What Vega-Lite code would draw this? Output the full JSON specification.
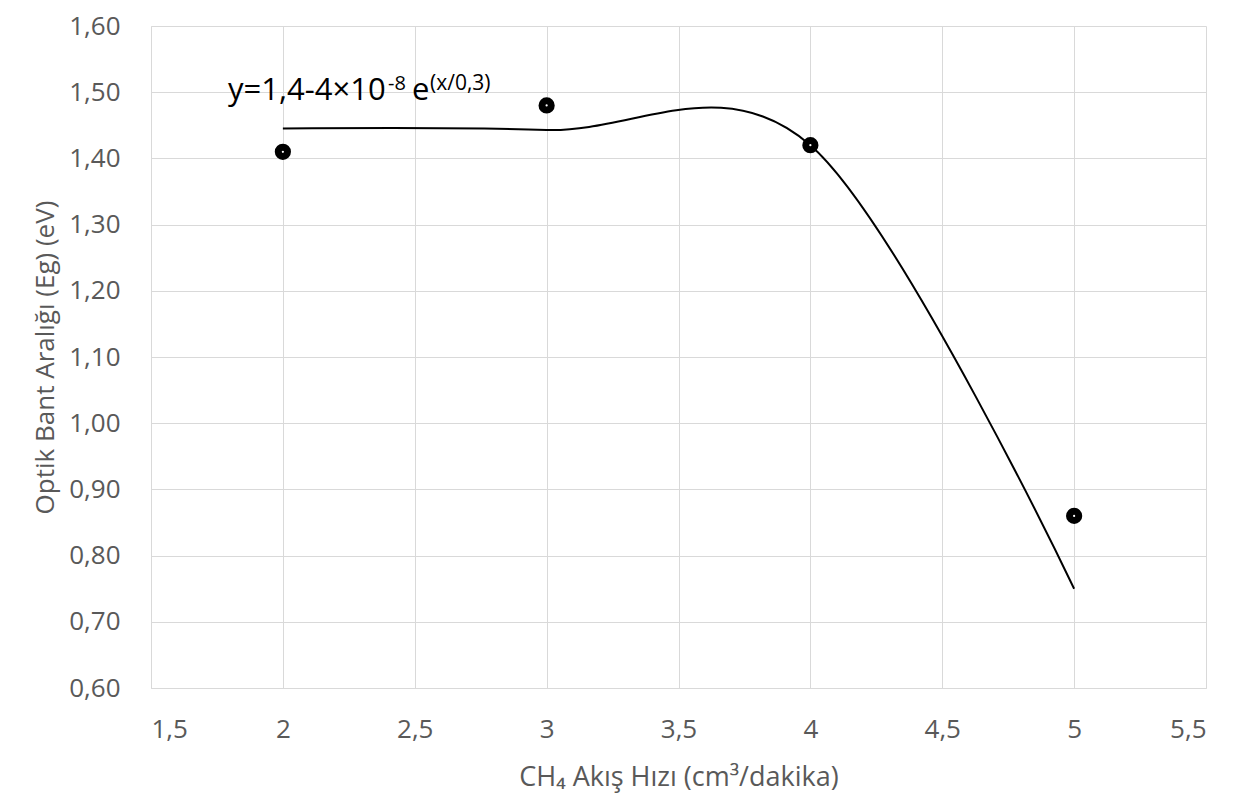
{
  "$schema": "https://vega.github.io/schema/vega-lite/v6.json",
  "autosize": "none",
  "width": 1055,
  "height": 662,
  "padding": {"left": 151, "top": 26, "right": 39, "bottom": 121},
  "background": "white",
  "config": {
    "locale": {"number": {"decimal": ",", "thousands": ".", "grouping": [3], "currency": ["", " €"]}},
    "view": {"stroke": null},
    "font": "Open Sans",
    "axis": {
      "labelFont": "Open Sans", "titleFont": "Open Sans", "labelFontSize": 26, "titleFontSize": 27,
      "labelColor": "#595959", "titleColor": "#595959", "labelFontWeight": "normal", "titleFontWeight": "normal",
      "gridColor": "#d9d9d9", "gridWidth": 1, "domainColor": "#d9d9d9", "ticks": false
    }
  },
  "datasets": {
    "measured": [
      {"flow": 2, "eg": 1.41},
      {"flow": 3, "eg": 1.48},
      {"flow": 4, "eg": 1.42},
      {"flow": 5, "eg": 0.86}
    ],
    "fit": [
      {"flow": 2, "eg": 1.445},
      {"flow": 3, "eg": 1.443},
      {"flow": 4, "eg": 1.42},
      {"flow": 5, "eg": 0.75}
    ]
  },
  "layer": [
    {
      "data": {"name": "fit"},
      "mark": {"type": "line", "interpolate": "cardinal", "color": "black", "strokeWidth": 2},
      "encoding": {
        "x": {
          "field": "flow", "type": "quantitative",
          "scale": {"domain": [1.5, 5.5], "nice": false, "zero": false},
          "axis": {"values": [1.5, 2, 2.5, 3, 3.5, 4, 4.5, 5, 5.5], "format": "~g", "labelPadding": 28, "titlePadding": 22,
                   "title": "CH₄ Akış Hızı (cm³/dakika)", "domain": true}
        },
        "y": {
          "field": "eg", "type": "quantitative",
          "scale": {"domain": [0.6, 1.6], "nice": false, "zero": false},
          "axis": {"values": [0.6, 0.7, 0.8, 0.9, 1.0, 1.1, 1.2, 1.3, 1.4, 1.5, 1.6], "format": ".2f", "labelPadding": 31, "titlePadding": 10,
                   "title": "Optik Bant Aralığı (Eg) (eV)", "titleFontSize": 26, "domain": true}
        }
      }
    },
    {
      "data": {"name": "measured"},
      "mark": {"type": "point", "shape": "circle", "filled": false, "fill": "white", "stroke": "black", "strokeWidth": 7, "size": 85, "opacity": 1},
      "encoding": {
        "x": {"field": "flow", "type": "quantitative"},
        "y": {"field": "eg", "type": "quantitative"}
      }
    },
    {
      "data": {"values": [{}]},
      "mark": {"type": "text", "align": "left", "baseline": "alphabetic", "font": "Open Sans", "fontSize": 31, "color": "black", "text": "y=1,4-4×10"},
      "encoding": {"x": {"datum": 1.792, "type": "quantitative"}, "y": {"datum": 1.488, "type": "quantitative"}}
    },
    {
      "data": {"values": [{}]},
      "mark": {"type": "text", "align": "left", "baseline": "alphabetic", "font": "Open Sans", "fontSize": 20, "color": "black", "text": "-8"},
      "encoding": {"x": {"datum": 2.3986, "type": "quantitative"}, "y": {"datum": 1.503, "type": "quantitative"}}
    },
    {
      "data": {"values": [{}]},
      "mark": {"type": "text", "align": "left", "baseline": "alphabetic", "font": "Open Sans", "fontSize": 31, "color": "black", "text": "e"},
      "encoding": {"x": {"datum": 2.4896, "type": "quantitative"}, "y": {"datum": 1.488, "type": "quantitative"}}
    },
    {
      "data": {"values": [{}]},
      "mark": {"type": "text", "align": "left", "baseline": "alphabetic", "font": "Open Sans", "fontSize": 21, "color": "black", "text": "(x/0,3)"},
      "encoding": {"x": {"datum": 2.5578, "type": "quantitative"}, "y": {"datum": 1.503, "type": "quantitative"}}
    }
  ]
}
